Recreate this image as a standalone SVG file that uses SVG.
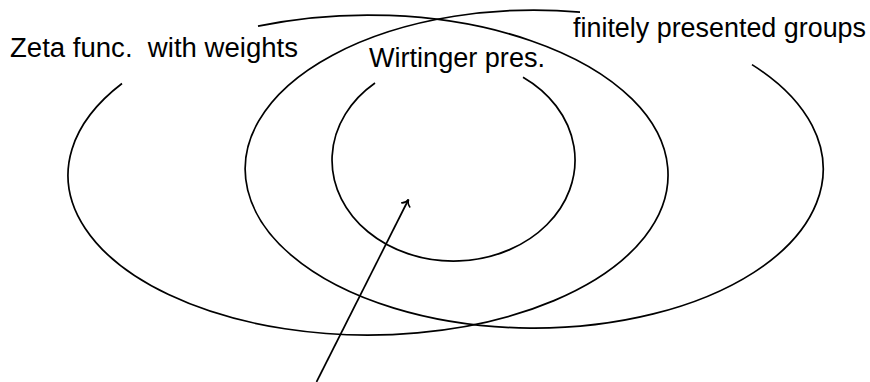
<svg xmlns="http://www.w3.org/2000/svg" width="870" height="382" viewBox="0 0 870 382">
  <style>
    .set { fill: none; stroke: #000; stroke-width: 1.7; }
    .lbl { font-family: "Liberation Sans", Arial, sans-serif; font-size: 27px; fill: #000; }
    .conn { fill: none; stroke: #000; stroke-width: 1.7; }
  </style>
  <defs>
    <marker id="to" viewBox="-8 -6 10 12" refX="0" refY="0" markerWidth="10" markerHeight="12" markerUnits="userSpaceOnUse" orient="auto">
      <path d="M-6,-4.5 C-4.8,-1.9 -2.2,-0.5 0,0 C-2.2,0.5 -4.8,1.9 -6,4.5" fill="none" stroke="#000" stroke-width="1.6" stroke-linecap="round"/>
    </marker>
  </defs>
  <rect width="870" height="382" fill="#fff"/>
  <g id="zeta">
    <path class="set" d="M122,83.5 A300,160 0 1 0 258,26.2"/>
    <text class="lbl" x="10" y="57" textLength="288" lengthAdjust="spacingAndGlyphs">Zeta func.&#160; with weights</text>
  </g>
  <g id="fpgroups">
    <path class="set" d="M752,64.6 A289,159 0 1 1 580,12.1"/>
    <text class="lbl" x="573" y="37" textLength="293" lengthAdjust="spacingAndGlyphs">finitely presented groups</text>
  </g>
  <g id="wirtinger">
    <path class="set" d="M375,83 A121.5,101 0 1 0 523,77.2"/>
    <text class="lbl" x="369" y="67" textLength="176" lengthAdjust="spacingAndGlyphs">Wirtinger pres.</text>
  </g>
  <g id="connectors">
    <line class="conn" x1="316.5" y1="382" x2="408.5" y2="199.5" marker-end="url(#to)"/>
  </g>
</svg>
